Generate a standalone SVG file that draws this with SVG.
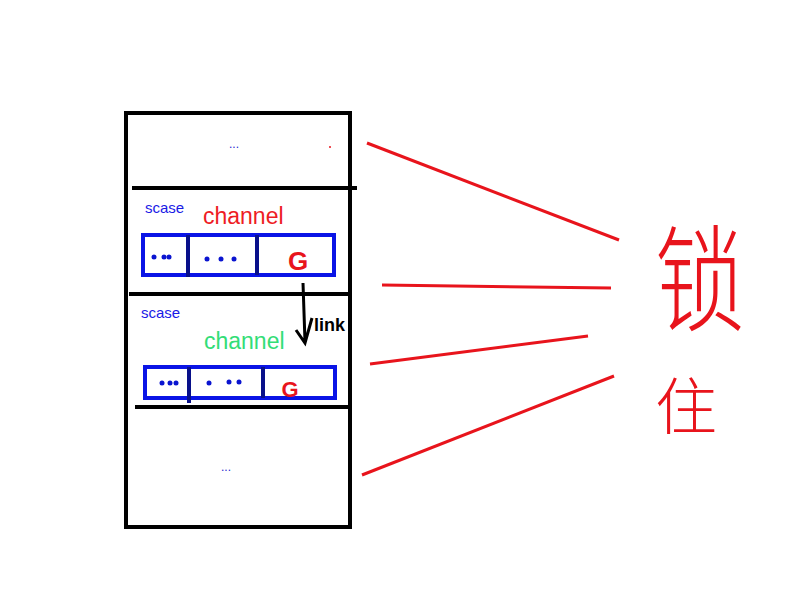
<svg xmlns="http://www.w3.org/2000/svg" width="800" height="600" viewBox="0 0 800 600">
<style>
.blk{fill:none;stroke:#000;stroke-width:4}
.sep{stroke:#000;stroke-width:4}
.cell{fill:none;stroke:#0a14e6;stroke-width:4}
.div{stroke:#08108a;stroke-width:4}
.dot{fill:#0a14d0}
.red{stroke:#e8141c;stroke-width:3;fill:none}
.sc{font-family:"Liberation Sans",Arial,sans-serif;font-size:15px;fill:#1a1ae6}
.ch{font-family:"Liberation Sans",Arial,sans-serif;font-size:23px}
.g{font-family:"Liberation Sans",Arial,sans-serif;fill:#e8141c;text-anchor:middle;font-weight:bold}
.ell{font-family:"Liberation Sans",Arial,sans-serif;font-size:12px;fill:#2a2ad0;text-anchor:middle}
.cjk{font-family:"Noto Sans CJK SC","Noto Sans CJK JP",sans-serif;fill:#e8141c;text-anchor:middle;font-weight:200}
</style>
<rect width="800" height="600" fill="#fff"/>
<g id="stack">
<rect class="blk" x="126" y="113" width="224" height="414"/>
<line class="sep" x1="132" y1="188" x2="357" y2="188"/>
<line class="sep" x1="129" y1="294" x2="350" y2="294"/>
<line class="sep" x1="135" y1="407" x2="350" y2="407"/>
</g>
<g id="top-block">
<text class="ell" x="234" y="148">...</text>
<circle cx="330" cy="147" r="1" fill="#e8141c"/>
</g>
<g id="scase1">
<text class="sc" x="145" y="213">scase</text>
<text class="ch" x="203" y="224" fill="#ee1c24">channel</text>
<rect class="cell" x="143" y="235" width="191" height="40"/>
<line class="div" x1="188" y1="235" x2="188" y2="277"/>
<line class="div" x1="257" y1="235" x2="257" y2="275"/>
<circle class="dot" cx="154" cy="257" r="2.5"/>
<circle class="dot" cx="164" cy="257" r="2.5"/>
<circle class="dot" cx="169" cy="257" r="2.5"/>
<circle class="dot" cx="207" cy="259" r="2.5"/>
<circle class="dot" cx="221" cy="259" r="2.5"/>
<circle class="dot" cx="234" cy="259" r="2.5"/>
<text class="g" x="298" y="270" font-size="26">G</text>
</g>
<g id="scase2">
<text class="sc" x="141" y="318">scase</text>
<text class="ch" x="204" y="349" fill="#33dd77">channel</text>
<rect class="cell" x="145" y="367" width="190" height="31"/>
<line class="div" x1="189" y1="367" x2="189" y2="403"/>
<line class="div" x1="263" y1="367" x2="263" y2="398"/>
<circle class="dot" cx="162" cy="383" r="2.5"/>
<circle class="dot" cx="170" cy="383" r="2.5"/>
<circle class="dot" cx="176" cy="383" r="2.5"/>
<circle class="dot" cx="209" cy="383" r="2.5"/>
<circle class="dot" cx="229" cy="382" r="2.5"/>
<circle class="dot" cx="239" cy="382" r="2.5"/>
<text class="g" x="290" y="397" font-size="22">G</text>
</g>
<g id="bottom-block">
<text class="ell" x="226" y="471">...</text>
</g>
<g id="connectors">
<path d="M303,283 L305,342 M296,330 L305,343 L312,318" stroke="#000" stroke-width="3" fill="none"/>
<text x="314" y="331" font-family="Liberation Sans,Arial,sans-serif" font-size="18" font-weight="bold" fill="#000">link</text>
<line class="red" x1="367" y1="143" x2="619" y2="240"/>
<line class="red" x1="382" y1="285" x2="611" y2="288"/>
<line class="red" x1="370" y1="364" x2="588" y2="336"/>
<line class="red" x1="362" y1="475" x2="614" y2="376"/>
</g>
<g id="lock-label">
<text class="cjk" font-size="100" transform="translate(700,322) scale(0.9,1.15)">锁</text>
<text class="cjk" x="686" y="430" font-size="62">住</text>
</g>
</svg>
